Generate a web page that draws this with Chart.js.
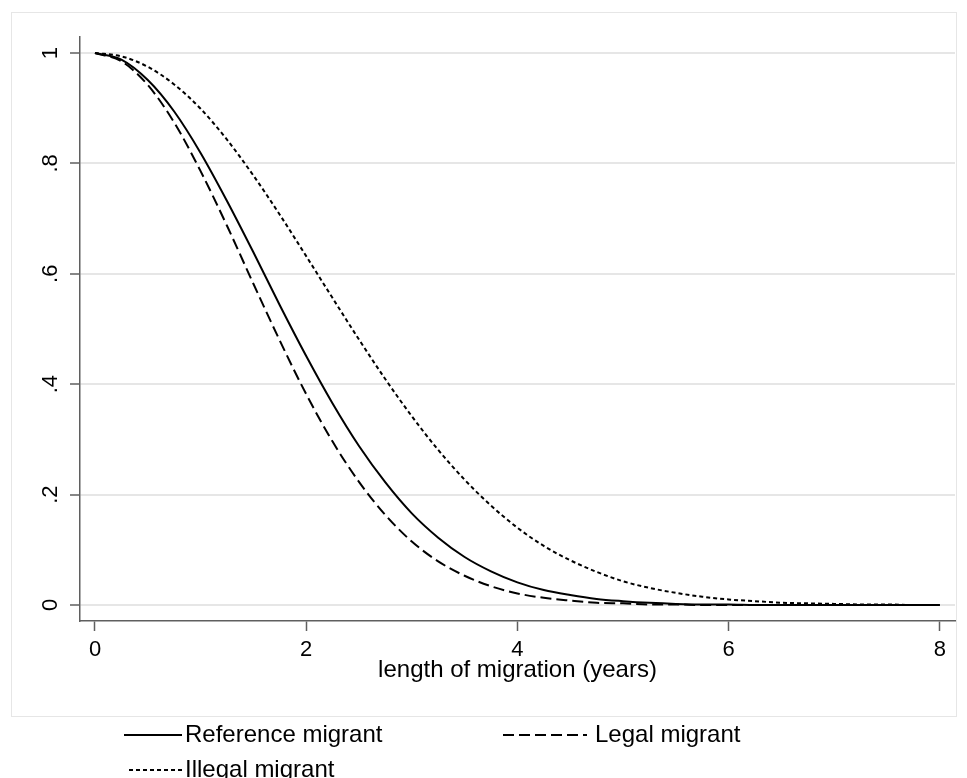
<!DOCTYPE html>
<html>
<head>
<meta charset="utf-8">
<script src="https://cdn.jsdelivr.net/npm/chart.js@4.4.1/dist/chart.umd.min.js"></script>
<style>
  html, body { margin: 0; padding: 0; background: #fff; }
</style>
</head>
<body>
<canvas id="survival-chart" width="967" height="778"></canvas>
<script>
// Length of migration (years) at which the curves were read
const years = [0, 0.25, 0.5, 0.75, 1, 1.25, 1.5, 1.75, 2, 2.25, 2.5, 2.75, 3, 3.25, 3.5, 3.75,
    4, 4.25, 4.5, 4.75, 5, 5.25, 5.5, 5.75, 6, 6.25, 6.5, 6.75, 7, 7.25, 7.5, 7.75, 8];

const referenceMigrant = [1, 0.988, 0.951, 0.894, 0.819, 0.732, 0.639, 0.543, 0.451, 0.365, 0.288, 0.222,
    0.166, 0.122, 0.087, 0.061, 0.041, 0.027, 0.018, 0.011, 0.007, 0.004, 0.002, 0.001, 0.001,
    0, 0, 0, 0, 0, 0, 0, 0];
const legalMigrant = [1, 0.985, 0.942, 0.874, 0.786, 0.687, 0.582, 0.479, 0.382, 0.296, 0.223, 0.163,
    0.115, 0.079, 0.053, 0.034, 0.021, 0.013, 0.008, 0.004, 0.003, 0.001, 0.001, 0, 0,
    0, 0, 0, 0, 0, 0, 0, 0];
const illegalMigrant = [1, 0.994, 0.975, 0.943, 0.899, 0.843, 0.778, 0.707, 0.632, 0.556, 0.481, 0.409,
    0.342, 0.281, 0.227, 0.180, 0.140, 0.107, 0.081, 0.060, 0.043, 0.031, 0.022, 0.015, 0.010,
    0.007, 0.004, 0.003, 0.002, 0.001, 0.001, 0, 0];

const seriesLabels = ['Reference migrant', 'Legal migrant', 'Illegal migrant'];
const xTicks = [0, 2, 4, 6, 8];
const yTicks = [0, 0.2, 0.4, 0.6, 0.8, 1];
const yTickLabels = ['0', '.2', '.4', '.6', '.8', '1'];
const xTitle = 'length of migration (years)';

const AXIS_COLOR = '#5f5f5f';
const GRID_COLOR = '#e6e6e6';
const FONT = '"Liberation Sans", Arial, Helvetica, sans-serif';

const toPoints = (values) => values.map((v, i) => ({ x: years[i], y: v }));

/**
 * Light frame around the plot region
 */
const frameBox = {
    id: 'frameBox',
    beforeDraw(chart) {
        const ctx = chart.ctx;
        ctx.save();
        ctx.strokeStyle = GRID_COLOR;
        ctx.lineWidth = 1;
        ctx.strokeRect(11.5, 12.5, 945, 704);
        ctx.restore();
    }
};

/**
 * Stata-style key below the graph: line sample, then label
 */
const keyLegend = {
    id: 'keyLegend',
    afterDraw(chart, args, opts) {
        const ctx = chart.ctx;
        ctx.save();
        ctx.font = opts.font;
        ctx.fillStyle = '#000';
        ctx.textBaseline = 'middle';
        ctx.textAlign = 'left';
        opts.slots.forEach((slot, i) => {
            const ds = chart.data.datasets[i];
            ctx.beginPath();
            ctx.setLineDash(ds.borderDash || []);
            ctx.lineWidth = ds.borderWidth;
            ctx.strokeStyle = ds.borderColor;
            ctx.moveTo(slot.x0, slot.y);
            ctx.lineTo(slot.x1, slot.y);
            ctx.stroke();
            ctx.setLineDash([]);
            ctx.fillText(ds.label, slot.textX, slot.y);
        });
        ctx.restore();
    }
};

const lineStyle = (label, values, dash) => ({
    label,
    data: toPoints(values),
    borderColor: '#000',
    borderWidth: 2,
    borderDash: dash,
    pointRadius: 0,
    fill: false,
    cubicInterpolationMode: 'monotone'
});

new Chart(document.getElementById('survival-chart').getContext('2d'), {
    type: 'line',
    data: {
        datasets: [
            lineStyle(seriesLabels[0], referenceMigrant, []),
            lineStyle(seriesLabels[1], legalMigrant, [11, 5]),
            lineStyle(seriesLabels[2], illegalMigrant, [4, 3])
        ]
    },
    options: {
        responsive: false,
        animation: false,
        devicePixelRatio: 1,
        layout: { padding: { left: 10, right: 12, top: 37, bottom: 87 } },
        plugins: {
            legend: { display: false },
            tooltip: { enabled: false },
            keyLegend: {
                font: '24px ' + FONT,
                slots: [
                    { x0: 124, x1: 182, textX: 185, y: 735 },
                    { x0: 503, x1: 587, textX: 595, y: 735 },
                    { x0: 129, x1: 182, textX: 185, y: 770 }
                ]
            }
        },
        scales: {
            x: {
                type: 'linear',
                min: -0.142,
                max: 8.144,
                afterBuildTicks: (scale) => { scale.ticks = xTicks.map(v => ({ value: v })); },
                afterFit: (scale) => { scale.height = 70; },
                ticks: {
                    color: '#000',
                    padding: 6,
                    font: { family: FONT, size: 22 },
                    callback: (v) => String(v)
                },
                grid: {
                    drawOnChartArea: false,
                    tickColor: AXIS_COLOR,
                    tickLength: 10,
                    tickWidth: 1.5
                },
                border: { color: AXIS_COLOR, width: 1.5 },
                title: {
                    display: true,
                    text: xTitle,
                    color: '#000',
                    font: { family: FONT, size: 24 },
                    padding: { top: 0, bottom: 6 }
                }
            },
            y: {
                type: 'linear',
                min: -0.029,
                max: 1.029,
                afterBuildTicks: (scale) => { scale.ticks = yTicks.map(v => ({ value: v })); },
                afterFit: (scale) => { scale.width = 70; },
                ticks: {
                    color: '#000',
                    padding: 10,
                    minRotation: 90,
                    maxRotation: 90,
                    crossAlign: 'center',
                    font: { family: FONT, size: 22 },
                    callback: (v) => {
                        const i = yTicks.findIndex(t => Math.abs(t - v) < 1e-9);
                        return i >= 0 ? yTickLabels[i] : '';
                    }
                },
                grid: {
                    color: GRID_COLOR,
                    lineWidth: 2,
                    tickColor: AXIS_COLOR,
                    tickLength: 10,
                    tickWidth: 1.5
                },
                border: { color: AXIS_COLOR, width: 1.5 }
            }
        }
    },
    plugins: [frameBox, keyLegend]
});
</script>
</body>
</html>
